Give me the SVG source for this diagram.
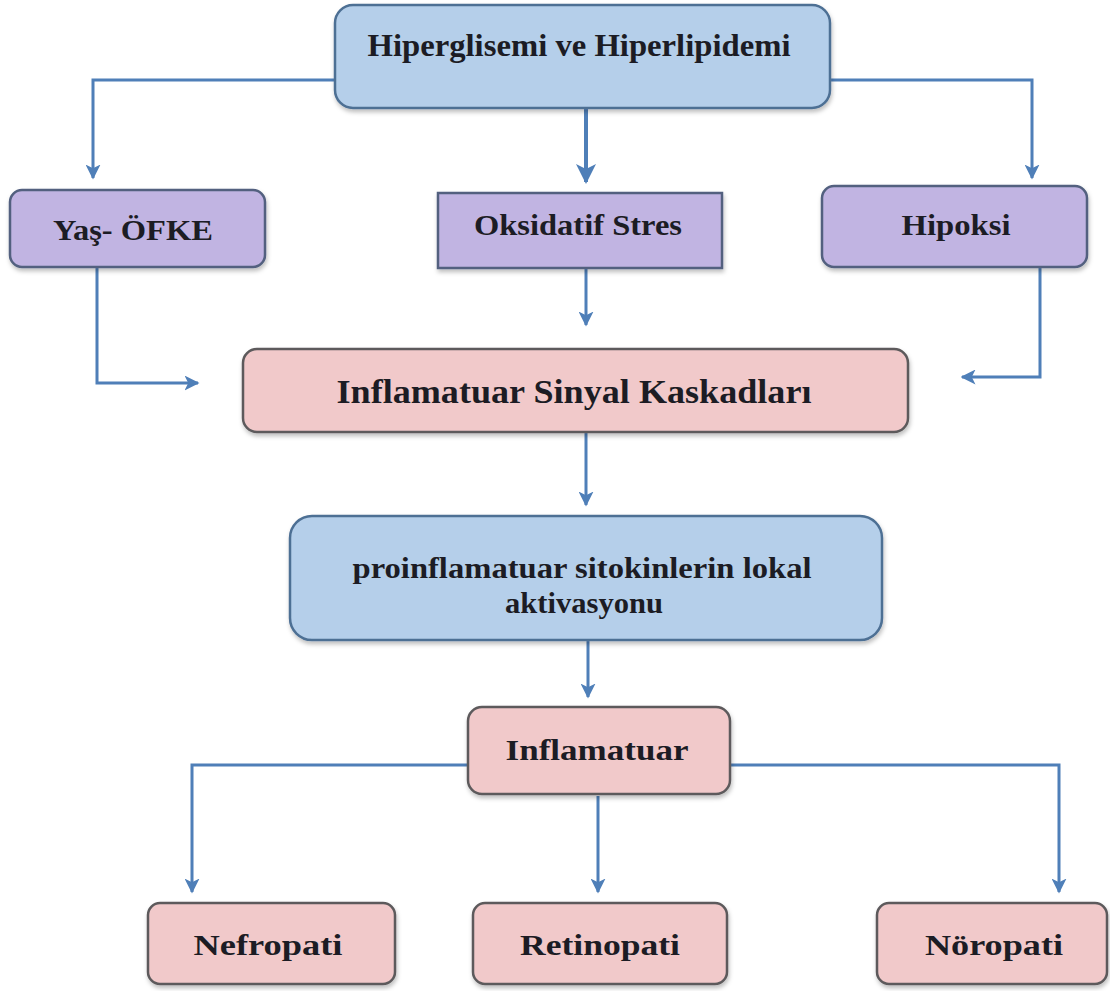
<svg xmlns="http://www.w3.org/2000/svg" width="1110" height="991" viewBox="0 0 1110 991">
<defs>
<marker id="ah" viewBox="0 0 10 10" refX="9" refY="5" markerWidth="5" markerHeight="5" orient="auto" markerUnits="strokeWidth">
<path d="M0,0 L10,5 L0,10 L2.5,5 z" fill="#4f7fb8"/>
</marker>
<filter id="sh" x="-5%" y="-5%" width="110%" height="120%">
<feDropShadow dx="1" dy="3" stdDeviation="2" flood-color="#000" flood-opacity="0.25"/>
</filter>
</defs>
<style>
.blue{fill:#b5cfea;stroke:#4d6f94;stroke-width:2.5;filter:url(#sh)}
.purple{fill:#c1b4e2;stroke:#52607f;stroke-width:2.5;filter:url(#sh)}
.pink{fill:#f1c9ca;stroke:#5d5a5c;stroke-width:2.5;filter:url(#sh)}
.t{font-family:"Liberation Serif","Times New Roman",serif;font-weight:bold;fill:#1c1c24;text-anchor:middle}
.c{fill:none;stroke:#4f7fb8;stroke-width:3;marker-end:url(#ah)}
</style>
<rect width="1110" height="991" fill="#ffffff"/>
<g id="connectors">
<path class="c" d="M335,80 H93 V178"/>
<path class="c" d="M830,80 H1032 V178"/>
<path class="c" d="M586,108 V182" style="stroke-width:4"/>
<path class="c" d="M97,268 V383 H198"/>
<path class="c" d="M586,268 V325"/>
<path class="c" d="M1040,268 V377 H962"/>
<path class="c" d="M586,433 V505"/>
<path class="c" d="M588,641 V697"/>
<path class="c" d="M470,765 H192 V892"/>
<path class="c" d="M598,796 V892"/>
<path class="c" d="M731,765 H1059 V892"/>
</g>
<g id="n-hiper">
<rect class="blue" x="335" y="5" width="495" height="103" rx="18"/>
<text class="t" x="579" y="56" font-size="31" textLength="423" lengthAdjust="spacingAndGlyphs">Hiperglisemi ve Hiperlipidemi</text>
</g>
<g id="n-yas">
<rect class="purple" x="10" y="190" width="255" height="77" rx="12"/>
<text class="t" x="133" y="240" font-size="30" textLength="160" lengthAdjust="spacingAndGlyphs">Yaş- ÖFKE</text>
</g>
<g id="n-oks">
<rect class="purple" x="438" y="193" width="284" height="75"/>
<text class="t" x="578" y="235" font-size="29" textLength="208" lengthAdjust="spacingAndGlyphs">Oksidatif Stres</text>
</g>
<g id="n-hipoksi">
<rect class="purple" x="822" y="186" width="265" height="81" rx="12"/>
<text class="t" x="956" y="235" font-size="30" textLength="109" lengthAdjust="spacingAndGlyphs">Hipoksi</text>
</g>
<g id="n-sinyal">
<rect class="pink" x="243" y="349" width="665" height="83" rx="14"/>
<text class="t" x="574" y="403" font-size="33" textLength="475" lengthAdjust="spacingAndGlyphs">Inflamatuar Sinyal Kaskadları</text>
</g>
<g id="n-proinf">
<rect class="blue" x="290" y="516" width="592" height="124" rx="22"/>
<text class="t" x="582" y="578" font-size="29" textLength="459" lengthAdjust="spacingAndGlyphs">proinflamatuar sitokinlerin lokal</text>
<text class="t" x="584" y="613" font-size="29" textLength="158" lengthAdjust="spacingAndGlyphs">aktivasyonu</text>
</g>
<g id="n-inflam">
<rect class="pink" x="468" y="707" width="262" height="87" rx="14"/>
<text class="t" x="597" y="760" font-size="30" textLength="183" lengthAdjust="spacingAndGlyphs">Inflamatuar</text>
</g>
<g id="n-nefro">
<rect class="pink" x="148" y="903" width="247" height="81" rx="12"/>
<text class="t" x="268" y="955" font-size="30" textLength="149" lengthAdjust="spacingAndGlyphs">Nefropati</text>
</g>
<g id="n-retino">
<rect class="pink" x="473" y="903" width="254" height="81" rx="12"/>
<text class="t" x="600" y="955" font-size="30" textLength="160" lengthAdjust="spacingAndGlyphs">Retinopati</text>
</g>
<g id="n-noro">
<rect class="pink" x="877" y="903" width="230" height="81" rx="12"/>
<text class="t" x="994" y="955" font-size="30" textLength="138" lengthAdjust="spacingAndGlyphs">Nöropati</text>
</g>
</svg>
